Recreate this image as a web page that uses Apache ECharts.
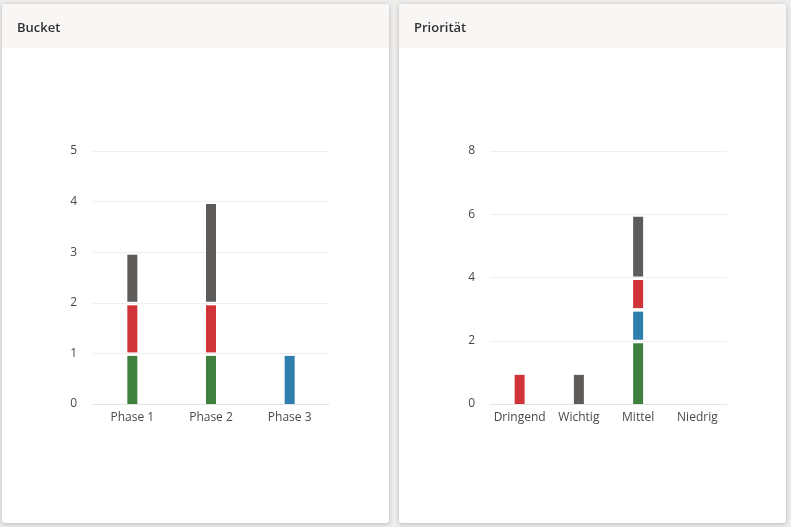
<!DOCTYPE html>
<html>
<head>
<meta charset="utf-8">
<script src="https://cdn.jsdelivr.net/npm/echarts@6/dist/echarts.min.js"></script>
<style>
html,body{margin:0;padding:0;background:#eeedec;}
#c{width:791px;height:527px;}
</style>
</head>
<body>
<div id="c"></div>
<script>
// ---- data ----
var bucketTitle = 'Bucket';
var prioTitle = 'Priorität';
var bucketCats = ['Phase 1', 'Phase 2', 'Phase 3'];
var prioCats = ['Dringend', 'Wichtig', 'Mittel', 'Niedrig'];
var statusNames = ['Erledigt', 'In Bearbeitung', 'Verspätet', 'Nicht begonnen'];
var statusColors = ['#3f803f', '#2f7fae', '#d13438', '#5d5c5b'];
// bucket values per status (bottom to top)
var bucketDone = [1, 1, 0];
var bucketProgress = [0, 0, 1];
var bucketLate = [1, 1, 0];
var bucketNotStarted = [1, 2, 0];
// priority values per status
var prioDone = [0, 0, 2, 0];
var prioProgress = [0, 0, 1, 0];
var prioLate = [1, 0, 1, 0];
var prioNotStarted = [0, 1, 2, 0];
var bucketTicks = {min: 0, max: 5, interval: 1};
var prioTicks = {min: 0, max: 8, interval: 2};

var chart = echarts.init(document.getElementById('c'), null, {renderer: 'canvas'});

function stackData(seriesList) {
  var cum = seriesList[0].map(function () { return 0; });
  return seriesList.map(function (vals) {
    var out = [];
    vals.forEach(function (v, i) {
      if (v > 0) out.push([i, cum[i], cum[i] + v]);
      cum[i] += v;
    });
    return out;
  });
}

function renderSeg(params, api) {
  var cat = api.value(0), s = api.value(1), e = api.value(2);
  var p0 = api.coord([cat, s]);
  var p1 = api.coord([cat, e]);
  var bottom = p0[1] - (s > 0 ? 1 : 0);
  var top = p1[1] + 2.5;
  var w = 10;
  return {
    type: 'rect',
    shape: {x: p0[0] - w / 2, y: top, width: w, height: bottom - top},
    style: {fill: api.visual('color')}
  };
}

var bStack = stackData([bucketDone, bucketProgress, bucketLate, bucketNotStarted]);
var pStack = stackData([prioDone, prioProgress, prioLate, prioNotStarted]);

var series = [];
statusNames.forEach(function (n, k) {
  series.push({type: 'custom', name: n, xAxisIndex: 0, yAxisIndex: 0, renderItem: renderSeg,
    itemStyle: {color: statusColors[k]}, encode: {x: 0, y: [1, 2]}, data: bStack[k], z: 5});
  series.push({type: 'custom', name: n, xAxisIndex: 1, yAxisIndex: 1, renderItem: renderSeg,
    itemStyle: {color: statusColors[k]}, encode: {x: 0, y: [1, 2]}, data: pStack[k], z: 5});
});

var font = '"Open Sans", "Noto Sans", sans-serif';
var axisLabel = {color: '#4a4948', fontSize: 12, fontFamily: font};

function card(x, w, title) {
  return [
    {type: 'rect', shape: {x: x, y: 4, width: w, height: 519, r: 3},
      style: {fill: '#ffffff', shadowBlur: 5, shadowColor: 'rgba(0,0,0,0.22)', shadowOffsetY: 1}, z: -10},
    {type: 'rect', shape: {x: x, y: 4, width: w, height: 44, r: [3, 3, 0, 0]},
      style: {fill: '#f8f7f6'}, z: -9},
    {type: 'text', x: x + 15, y: 28, z: -8,
      style: {text: title, fill: '#323130', font: '600 13px ' + font, verticalAlign: 'middle'}}
  ];
}

chart.setOption({
  backgroundColor: '#eeedec',
  animation: false,
  graphic: card(2, 387, bucketTitle).concat(card(399, 387, prioTitle)),
  grid: [
    {left: 93, right: 462, top: 151, bottom: 123},
    {left: 490, right: 64, top: 151, bottom: 123}
  ],
  xAxis: [
    {type: 'category', gridIndex: 0, data: bucketCats, axisTick: {show: false},
      axisLine: {lineStyle: {color: '#e6e5e4'}}, axisLabel: Object.assign({margin: 8}, axisLabel)},
    {type: 'category', gridIndex: 1, data: prioCats, axisTick: {show: false},
      axisLine: {lineStyle: {color: '#e6e5e4'}}, axisLabel: Object.assign({margin: 8, interval: 0}, axisLabel)}
  ],
  yAxis: [
    {type: 'value', gridIndex: 0, min: bucketTicks.min, max: bucketTicks.max, interval: bucketTicks.interval,
      axisLabel: Object.assign({margin: 16}, axisLabel), splitLine: {lineStyle: {color: '#f0efee'}}},
    {type: 'value', gridIndex: 1, min: prioTicks.min, max: prioTicks.max, interval: prioTicks.interval,
      axisLabel: Object.assign({margin: 15}, axisLabel), splitLine: {lineStyle: {color: '#f0efee'}}}
  ],
  series: series
});
</script>
</body>
</html>
